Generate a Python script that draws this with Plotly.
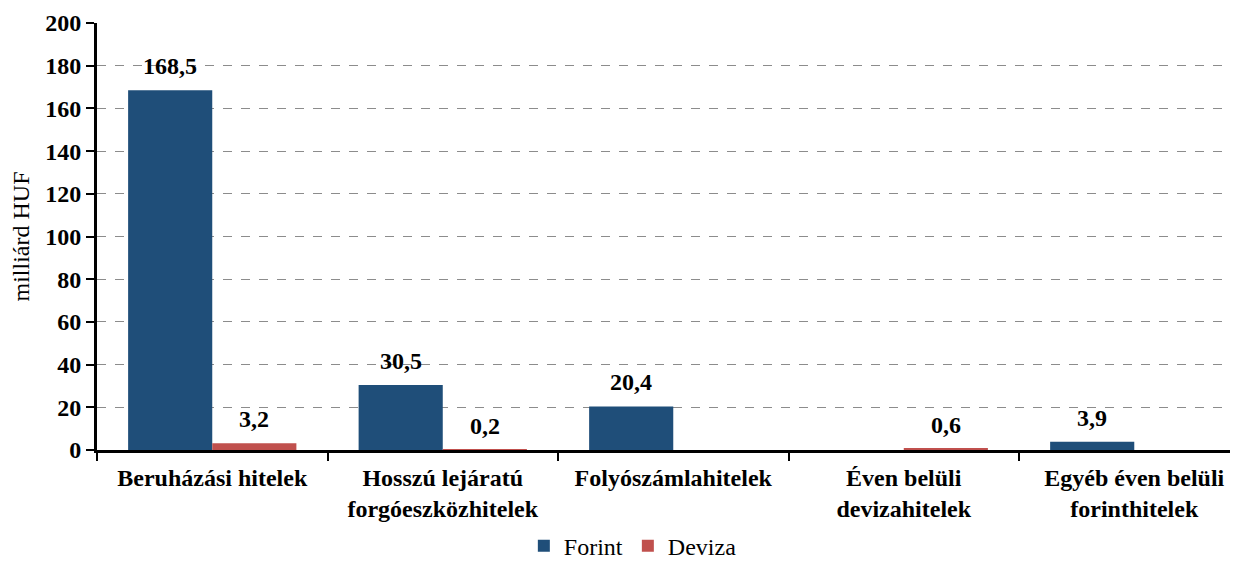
import plotly.graph_objects as go

categories = ["Beruházási hitelek", "Hosszú lejáratú<br>forgóeszközhitelek", "Folyószámlahitelek",
              "Éven belüli<br>devizahitelek", "Egyéb éven belüli<br>forinthitelek"]
forint = [168.5, 30.5, 20.4, None, 3.9]
deviza = [3.2, 0.2, None, 0.6, None]
y_ticks = [0, 20, 40, 60, 80, 100, 120, 140, 160, 180, 200]

FONT = "Liberation Serif"
FS = 24
C_FORINT = "#1F4E79"
C_DEVIZA = "#C0504D"

def fmt(v):
    return f"{v:.1f}".replace(".", ",")

fig = go.Figure()
fig.add_trace(go.Bar(x=categories, y=forint, name="Forint", marker_color=C_FORINT,
                     marker_line_width=0))
fig.add_trace(go.Bar(x=categories, y=deviza, name="Deviza", marker_color=C_DEVIZA,
                     marker_line_width=0))

annotations = []
for series, shift in ((forint, -42), (deviza, 42)):
    for cat, v in zip(categories, series):
        if v is None:
            continue
        annotations.append(dict(x=cat, y=v, xref="x", yref="y", text=f"<b>{fmt(v)}</b>",
                                showarrow=False, xshift=shift, yshift=24, yanchor="middle",
                                font=dict(family=FONT, size=FS, color="black")))

fig.update_layout(
    width=1230, height=557,
    margin=dict(l=89, r=0, t=15, b=115),
    paper_bgcolor="white", plot_bgcolor="white",
    barmode="group", bargap=0.27, bargroupgap=0,
    font=dict(family=FONT, size=FS, color="black"),
    legend=dict(orientation="h", xref="container", x=0.508, xanchor="center",
                yref="container", y=0.034, yanchor="middle",
                font=dict(family=FONT, size=FS, color="black"), itemwidth=30,
                traceorder="normal"),
    annotations=annotations,
)
fig.update_xaxes(
    type="category", range=[-0.5, 4.45],
    showline=True, linecolor="black", linewidth=3,
    ticks="outside", tickson="boundaries", ticklen=8, tickcolor="black", tickwidth=2,
    tickfont=dict(family=FONT, size=FS, color="black"),
    tickvals=categories, ticktext=[f"<b>{c}</b>" for c in categories],
    ticklabelstandoff=4,
    showgrid=False,
)
fig.update_yaxes(
    range=[0, 200], tickvals=y_ticks, ticktext=[f"<b>{t}</b>" for t in y_ticks],
    showline=True, linecolor="black", linewidth=3,
    ticks="outside", ticklen=8, tickcolor="black", tickwidth=2,
    tickfont=dict(family=FONT, size=FS, color="black"),
    showgrid=True, gridcolor="#8c8c8c", griddash="dash", gridwidth=1,
    zeroline=False,
    title=dict(text="milliárd HUF", font=dict(family=FONT, size=FS, color="black"), standoff=12),
)
fig.write_html("out.html")
